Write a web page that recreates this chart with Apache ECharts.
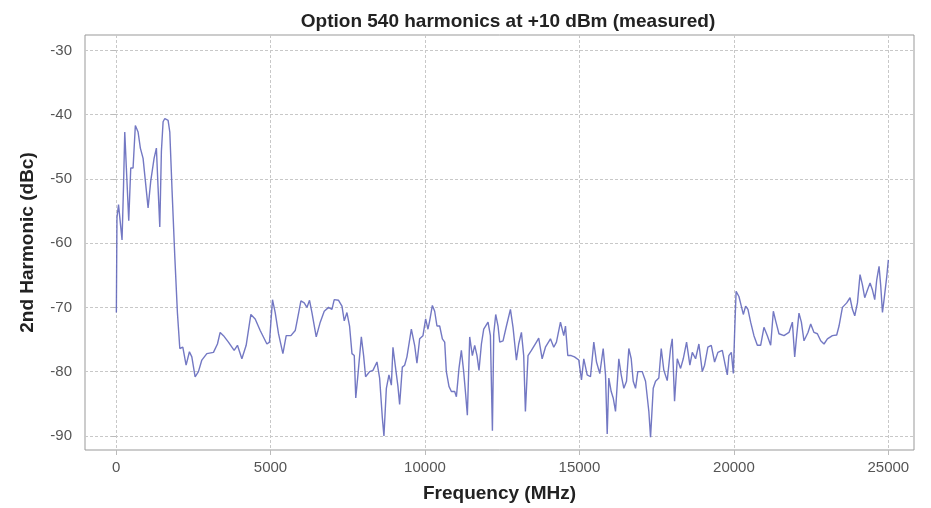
<!DOCTYPE html>
<html>
<head>
<meta charset="utf-8">
<script src="https://cdn.jsdelivr.net/npm/echarts@6/dist/echarts.min.js"></script>
<style>html,body{margin:0;padding:0;background:#fff}#c{width:931px;height:508px}</style>
</head>
<body>
<div id="c"></div>
<script>
const titleText = 'Option 540 harmonics at +10 dBm (measured)';
const xName = 'Frequency (MHz)';
const yName = '2nd Harmonic (dBc)';
const xTicks = [0, 5000, 10000, 15000, 20000, 25000];
const yTicks = [-90, -80, -70, -60, -50, -40, -30];

const freq = [10,30,80,130,194,243,282,334,411,476,551,625,713,787,875,949,1037,1124,1231,1306,1361,1416,1468,1523,1578,1685,1740,1814,1902,1986,2064,2161,2268,2375,2453,2560,2667,2777,2939,3153,3282,3370,3477,3638,3823,3930,4073,4212,4364,4504,4666,4883,4967,5064,5152,5259,5401,5508,5660,5800,5874,5984,6091,6179,6263,6341,6480,6610,6739,6879,6989,7063,7203,7313,7387,7474,7559,7637,7711,7760,7830,7940,8014,8078,8208,8316,8446,8532,8620,8672,8750,8834,8912,8964,9050,9125,9180,9267,9342,9416,9559,9666,9740,9828,9935,10022,10097,10152,10239,10314,10388,10476,10563,10638,10692,10777,10855,10962,11017,11101,11178,11253,11318,11372,11448,11534,11610,11684,11749,11827,11902,12041,12118,12183,12226,12290,12365,12420,12527,12637,12766,12850,12960,13034,13122,13196,13251,13336,13446,13608,13682,13793,13900,14062,14169,14256,14386,14493,14548,14623,14733,14839,14979,15066,15141,15251,15358,15465,15552,15659,15769,15844,15899,15951,16028,16093,16168,16275,16352,16437,16524,16599,16676,16741,16816,16890,17033,17140,17247,17302,17389,17464,17570,17648,17732,17842,17950,18004,18079,18167,18274,18361,18468,18575,18653,18760,18867,18977,19051,19158,19268,19375,19482,19625,19699,19787,19839,19917,19982,20023,20072,20163,20240,20305,20380,20455,20542,20649,20759,20866,20973,21083,21190,21277,21352,21459,21621,21783,21893,21968,22032,22107,22184,22269,22398,22486,22593,22703,22810,22917,23027,23189,23328,23403,23513,23652,23759,23837,23912,23999,24083,24161,24235,24323,24408,24486,24559,24624,24699,24754,24809,24861,24948,25000];

const harmonic = [-70.8,-56,-54,-53.8,-59.5,-51,-42.7,-48.3,-56.5,-48.3,-48.3,-41.7,-42.7,-45.2,-46.8,-50.3,-54.5,-50.3,-46.8,-45.2,-51.4,-57.5,-45.7,-41.1,-40.6,-40.9,-42.7,-51.9,-62.1,-70.8,-76.4,-76.2,-79,-76.9,-77.7,-80.8,-80,-78.2,-77.2,-77,-75.7,-73.9,-74.4,-75.4,-76.7,-75.9,-78,-75.9,-71.1,-71.8,-73.6,-75.7,-75.4,-68.8,-70.8,-74.1,-77.2,-74.4,-74.4,-73.6,-71.8,-69,-69.3,-70,-68.9,-70.8,-74.6,-72.3,-70.6,-70,-70.3,-68.8,-68.9,-69.8,-72.1,-70.8,-72.9,-77.2,-77.5,-84.1,-80.5,-74.6,-77.5,-80.8,-80,-79.8,-78.5,-81,-87.2,-90,-82.6,-80.5,-82.1,-76.2,-79.5,-82.3,-85.1,-79.3,-79,-77.7,-73.4,-75.9,-78.7,-74.9,-74.4,-71.8,-73.4,-72.1,-69.7,-70.6,-72.9,-72.9,-74.9,-75.4,-80,-82.3,-83.1,-83.1,-83.9,-79.5,-76.7,-80,-83.6,-86.8,-74.6,-77.5,-75.9,-77.5,-79.8,-75.7,-73.4,-72.3,-74.4,-89.2,-74.1,-71.1,-72.9,-75.4,-75.2,-72.9,-70.3,-73.1,-78.2,-75.7,-73.9,-77.5,-86.2,-77.5,-76.7,-75.4,-74.8,-78,-76.2,-74.9,-76.2,-75.4,-72.3,-74.4,-72.9,-77.5,-77.5,-77.7,-78.2,-81.3,-78,-80.5,-80.8,-75.4,-78.5,-80.3,-76.4,-80.5,-89.7,-81,-83.1,-84.1,-86.2,-78,-80.5,-82.6,-81.5,-76.4,-78,-81.5,-82.6,-80,-80,-81.5,-86.2,-90.2,-82.6,-81.5,-81,-76.4,-79.8,-81.4,-76.4,-74.9,-84.6,-78,-79.5,-78,-75.4,-79,-77,-78,-75.7,-80,-79,-76.2,-75.9,-78.5,-77,-76.7,-78.5,-80.5,-77.5,-77,-80.3,-74,-67.5,-68.3,-69.8,-71.1,-69.8,-70.3,-72.3,-74.4,-75.9,-75.9,-73.1,-74.4,-75.9,-70.6,-72.1,-74.1,-74.4,-73.9,-72.3,-77.7,-74.4,-70.9,-72.3,-75.2,-73.9,-72.6,-73.9,-74.1,-75.2,-75.7,-74.9,-74.4,-74.3,-72.9,-70,-69.3,-68.5,-70.3,-71.3,-69.3,-64.9,-66.5,-68.5,-67.3,-66.2,-67.3,-68.8,-65.7,-63.6,-66.7,-70.8,-68.8,-65.2,-62.6];

const chart = echarts.init(document.getElementById('c'), null, {renderer: 'canvas'});
const FONT = 'Liberation Sans, Arial, sans-serif';
chart.setOption({
  animation: false,
  backgroundColor: '#ffffff',
  title: {
    text: titleText,
    left: 503,
    textAlign: 'center',
    top: 7,
    textStyle: {fontFamily: FONT, fontSize: 19, fontWeight: 'bold', color: '#222'}
  },
  grid: {
    left: 85, right: 17, top: 35, bottom: 52,
    show: true, borderColor: '#999', borderWidth: 1, backgroundColor: '#fff'
  },
  xAxis: {
    type: 'value',
    min: -1005, max: 25830,
    name: xName,
    nameLocation: 'middle',
    nameGap: 34,
    nameTextStyle: {fontFamily: FONT, fontSize: 19, fontWeight: 'bold', color: '#222'},
    axisLine: {show: false},
    axisTick: {show: true, inside: false, length: 5, customValues: xTicks, lineStyle: {color: '#bbb'}},
    axisLabel: {customValues: xTicks, formatter: v => String(v), fontFamily: FONT, fontSize: 15, color: '#555', margin: 10},
    splitLine: {show: true, lineStyle: {color: '#c8c8c8', type: [3, 2], width: 1}}
  },
  yAxis: {
    type: 'value',
    min: -92.2, max: -27.6,
    name: yName,
    nameLocation: 'middle',
    nameGap: 48,
    nameRotate: 90,
    nameTextStyle: {fontFamily: FONT, fontSize: 19, fontWeight: 'bold', color: '#222'},
    axisLine: {show: false},
    axisTick: {show: true, inside: false, length: 5, customValues: yTicks, lineStyle: {color: '#bbb'}},
    axisLabel: {customValues: yTicks, formatter: v => String(v), fontFamily: FONT, fontSize: 15, color: '#555', margin: 13},
    splitLine: {show: true, lineStyle: {color: '#c8c8c8', type: [3, 2], width: 1}}
  },
  series: [{
    type: 'line',
    data: freq.map((f, i) => [f, harmonic[i]]),
    showSymbol: false,
    symbol: 'none',
    lineStyle: {color: '#5b60b9', width: 1.4, opacity: 0.85},
    clip: true
  }]
});
</script>
</body>
</html>
